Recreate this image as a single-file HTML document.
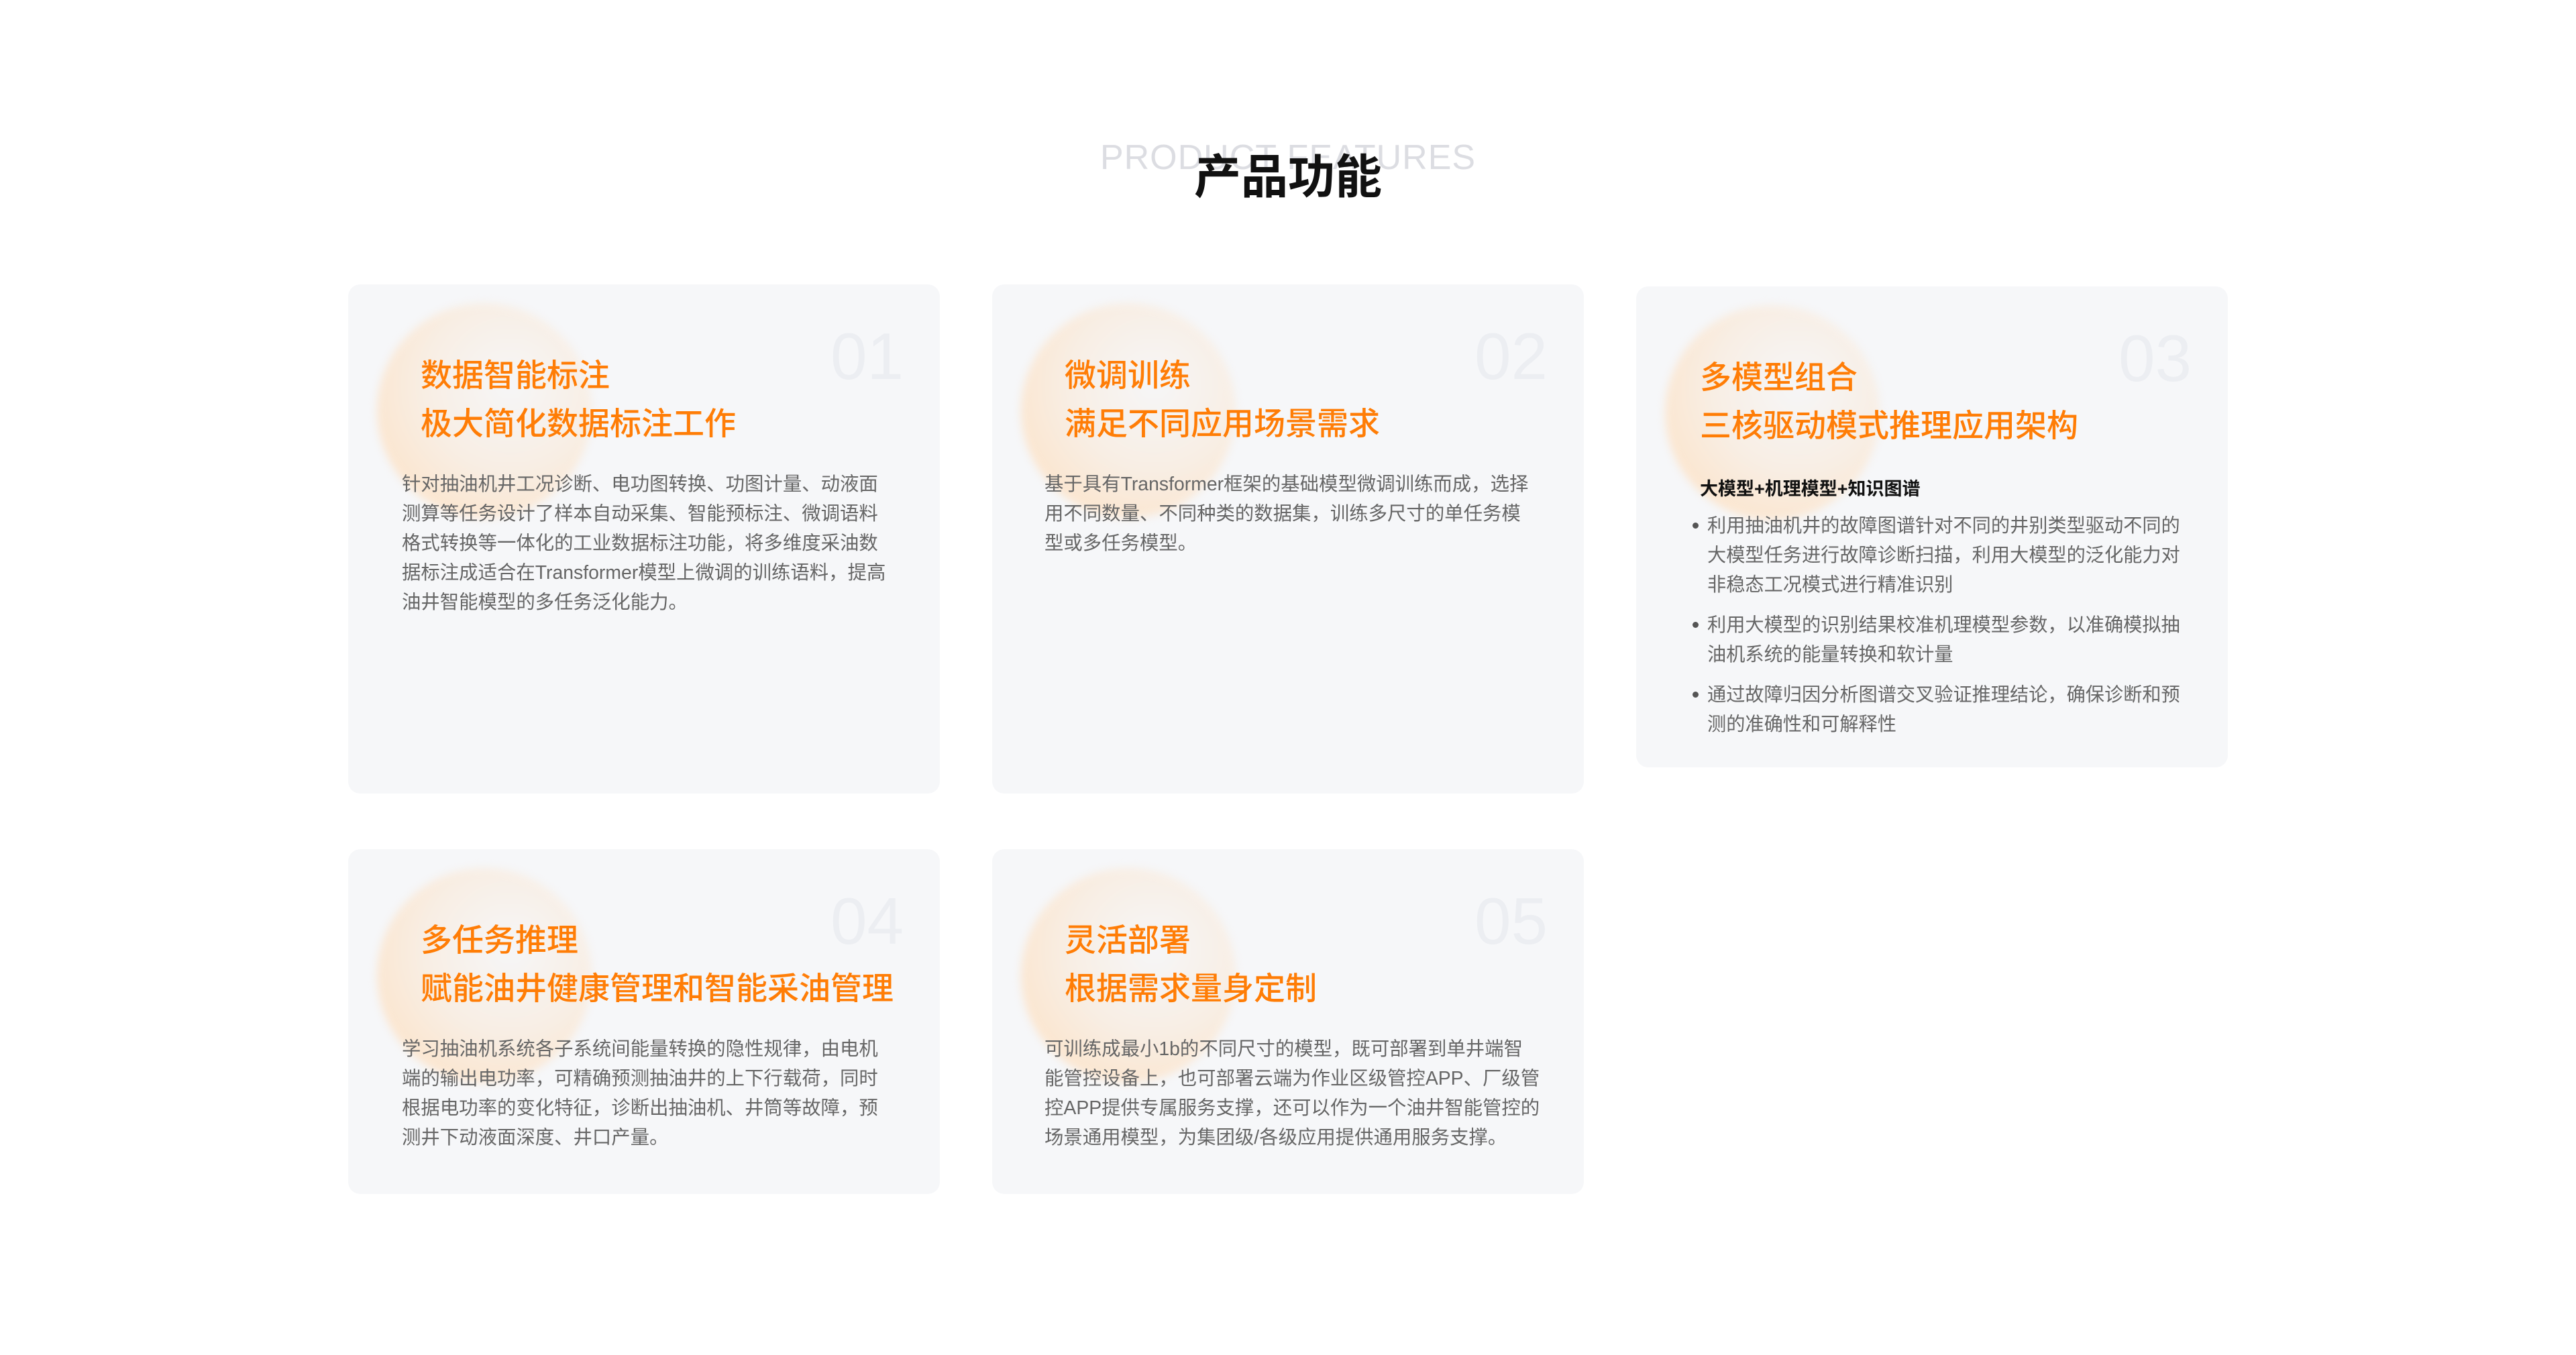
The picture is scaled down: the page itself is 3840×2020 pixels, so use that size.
<!DOCTYPE html>
<html><head><meta charset="utf-8"><style>
html,body{margin:0;padding:0;background:#fff;}
body{width:3840px;height:2020px;position:relative;overflow:hidden;font-family:"Liberation Sans","Noto Sans CJK SC",sans-serif;}
.en{position:absolute;left:0;width:3840px;top:200px;text-align:center;font-size:52px;color:#dcdde2;letter-spacing:1px;line-height:70px;}
.zh{position:absolute;left:0;width:3840px;top:222px;text-align:center;font-size:70px;font-weight:bold;color:#111;line-height:84px;}
.card{position:absolute;width:882px;background:#f6f7f9;border-radius:18px;overflow:hidden;}
.glow{position:absolute;left:43px;top:28px;width:320px;height:320px;border-radius:50%;background:radial-gradient(circle at 62% 38%,rgba(246,246,247,1) 0%,rgba(248,238,228,1) 45%,rgba(251,230,208,1) 75%,rgba(250,232,214,.6) 90%,rgba(246,247,249,0) 100%);filter:blur(6px);}
.num{position:absolute;right:54px;top:52px;font-size:98px;color:#eceef2;line-height:110px;font-family:"Liberation Sans",sans-serif;}
.h{position:absolute;left:108px;top:100px;font-size:47px;line-height:72px;color:#ff7d06;font-weight:500;white-space:nowrap;}
.b{position:absolute;left:80px;top:276px;font-size:28.4px;line-height:44px;color:#666;white-space:nowrap;}
.sub{position:absolute;left:95px;top:280px;font-size:27px;font-weight:bold;color:#111;white-space:nowrap;line-height:44px;}
ul{position:absolute;left:84px;top:334px;margin:0;padding:0;list-style:none;font-size:28.2px;line-height:44px;color:#666;white-space:nowrap;}
li{position:relative;padding-left:22px;margin-bottom:16px;}
li:before{content:"";position:absolute;left:0;top:18px;width:9px;height:9px;border-radius:50%;background:#555;}
</style></head><body>
<div class="en">PRODUCT FEATURES</div>
<div class="zh">产品功能</div>

<div class="card" style="left:519px;top:424px;height:759px;">
<div class="glow"></div><div class="num">01</div>
<div class="h">数据智能标注<br>极大简化数据标注工作</div>
<div class="b">针对抽油机井工况诊断、电功图转换、功图计量、动液面<br>测算等任务设计了样本自动采集、智能预标注、微调语料<br>格式转换等一体化的工业数据标注功能，将多维度采油数<br>据标注成适合在Transformer模型上微调的训练语料，提高<br>油井智能模型的多任务泛化能力。</div>
</div>

<div class="card" style="left:1479px;top:424px;height:759px;">
<div class="glow"></div><div class="num">02</div>
<div class="h">微调训练<br>满足不同应用场景需求</div>
<div class="b" style="left:78px">基于具有Transformer框架的基础模型微调训练而成，选择<br>用不同数量、不同种类的数据集，训练多尺寸的单任务模<br>型或多任务模型。</div>
</div>

<div class="card" style="left:2439px;top:427px;height:717px;">
<div class="glow"></div><div class="num">03</div>
<div class="h" style="left:95px">多模型组合<br>三核驱动模式推理应用架构</div>
<div class="sub">大模型+机理模型+知识图谱</div>
<ul>
<li>利用抽油机井的故障图谱针对不同的井别类型驱动不同的<br>大模型任务进行故障诊断扫描，利用大模型的泛化能力对<br>非稳态工况模式进行精准识别</li>
<li>利用大模型的识别结果校准机理模型参数，以准确模拟抽<br>油机系统的能量转换和软计量</li>
<li>通过故障归因分析图谱交叉验证推理结论，确保诊断和预<br>测的准确性和可解释性</li>
</ul>
</div>

<div class="card" style="left:519px;top:1266px;height:514px;">
<div class="glow"></div><div class="num">04</div>
<div class="h">多任务推理<br>赋能油井健康管理和智能采油管理</div>
<div class="b">学习抽油机系统各子系统间能量转换的隐性规律，由电机<br>端的输出电功率，可精确预测抽油井的上下行载荷，同时<br>根据电功率的变化特征，诊断出抽油机、井筒等故障，预<br>测井下动液面深度、井口产量。</div>
</div>

<div class="card" style="left:1479px;top:1266px;height:514px;">
<div class="glow"></div><div class="num">05</div>
<div class="h">灵活部署<br>根据需求量身定制</div>
<div class="b" style="left:78px">可训练成最小1b的不同尺寸的模型，既可部署到单井端智<br>能管控设备上，也可部署云端为作业区级管控APP、厂级管<br>控APP提供专属服务支撑，还可以作为一个油井智能管控的<br>场景通用模型，为集团级/各级应用提供通用服务支撑。</div>
</div>
</body></html>
